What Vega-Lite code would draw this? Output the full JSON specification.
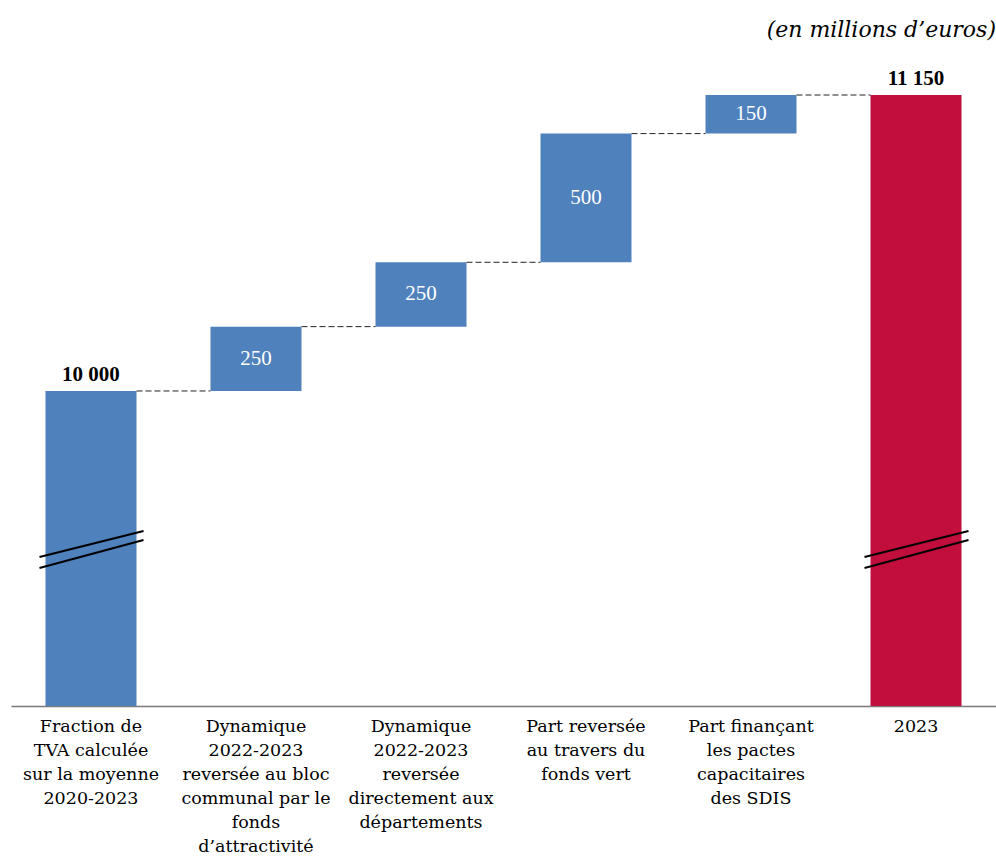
{
  "$schema": "https://vega.github.io/schema/vega-lite/v6.json",
  "autosize": "none",
  "width": 985,
  "height": 646,
  "padding": {"left": 11, "top": 60, "right": 0, "bottom": 154},
  "background": "white",
  "config": {
    "view": {"stroke": null},
    "font": "DejaVu Serif"
  },
  "title": {
    "text": "(en millions d’euros)",
    "anchor": "end",
    "font": "DejaVu Serif",
    "fontStyle": "italic",
    "fontWeight": "normal",
    "fontSize": 22,
    "color": "black",
    "offset": 18
  },
  "datasets": {
    "steps": [
      {"cat": "Fraction de|TVA calculée|sur la moyenne|2020-2023", "start": 0, "end": 10000, "kind": "total", "label": "10 000", "next": "Dynamique|2022-2023|reversée au bloc|communal par le|fonds|d’attractivité"},
      {"cat": "Dynamique|2022-2023|reversée au bloc|communal par le|fonds|d’attractivité", "start": 10000, "end": 10250, "kind": "delta", "label": "250", "next": "Dynamique|2022-2023|reversée|directement aux|départements"},
      {"cat": "Dynamique|2022-2023|reversée|directement aux|départements", "start": 10250, "end": 10500, "kind": "delta", "label": "250", "next": "Part reversée|au travers du|fonds vert"},
      {"cat": "Part reversée|au travers du|fonds vert", "start": 10500, "end": 11000, "kind": "delta", "label": "500", "next": "Part finançant|les pactes|capacitaires|des SDIS"},
      {"cat": "Part finançant|les pactes|capacitaires|des SDIS", "start": 11000, "end": 11150, "kind": "delta", "label": "150", "next": "2023"},
      {"cat": "2023", "start": 0, "end": 11150, "kind": "final", "label": "11 150", "next": null}
    ],
    "breaks": [
      {"cat": "Fraction de|TVA calculée|sur la moyenne|2020-2023", "ya": 9355, "yb": 9456},
      {"cat": "Fraction de|TVA calculée|sur la moyenne|2020-2023", "ya": 9312, "yb": 9421},
      {"cat": "2023", "ya": 9355, "yb": 9456},
      {"cat": "2023", "ya": 9312, "yb": 9421}
    ]
  },
  "encoding": {
    "x": {
      "field": "cat",
      "type": "nominal",
      "scale": {
        "domain": [
          "Fraction de|TVA calculée|sur la moyenne|2020-2023",
          "Dynamique|2022-2023|reversée au bloc|communal par le|fonds|d’attractivité",
          "Dynamique|2022-2023|reversée|directement aux|départements",
          "Part reversée|au travers du|fonds vert",
          "Part finançant|les pactes|capacitaires|des SDIS",
          "2023"
        ],
        "paddingInner": 0.4485,
        "paddingOuter": 0.209
      },
      "axis": {
        "title": null,
        "orient": "bottom",
        "ticks": false,
        "domainColor": "#7a7a7a",
        "domainWidth": 1.5,
        "labelAngle": 0,
        "labelFont": "DejaVu Serif",
        "labelFontSize": 17.5,
        "labelColor": "black",
        "labelLineHeight": 24,
        "labelPadding": 11,
        "labelBaseline": "top",
        "labelLimit": 0,
        "labelExpr": "split(datum.value, '|')"
      }
    }
  },
  "layer": [
    {
      "data": {"name": "steps"},
      "mark": {"type": "bar", "clip": true},
      "encoding": {
        "y": {
          "field": "end",
          "type": "quantitative",
          "scale": {"domain": [8776, 11286], "zero": false, "nice": false, "clamp": true},
          "axis": null
        },
        "y2": {"field": "start"},
        "color": {
          "field": "kind",
          "type": "nominal",
          "scale": {"domain": ["total", "delta", "final"], "range": ["#4F81BD", "#4F81BD", "#C10E3C"]},
          "legend": null
        }
      }
    },
    {
      "data": {"name": "steps"},
      "transform": [{"filter": "datum.next != null"}],
      "mark": {"type": "rule", "color": "#222222", "strokeWidth": 1, "strokeDash": [6, 3]},
      "encoding": {
        "x": {"field": "cat", "type": "nominal", "bandPosition": 1},
        "x2": {"field": "next", "bandPosition": 0},
        "y": {"field": "end", "type": "quantitative"}
      }
    },
    {
      "data": {"name": "steps"},
      "transform": [
        {"filter": "datum.kind == 'delta'"},
        {"fold": ["start", "end"], "as": ["k", "v"]}
      ],
      "mark": {"type": "text", "color": "white", "fontSize": 21, "font": "Liberation Serif", "baseline": "middle", "align": "center"},
      "encoding": {
        "y": {"aggregate": "mean", "field": "v", "type": "quantitative"},
        "text": {"field": "label", "type": "nominal"}
      }
    },
    {
      "data": {"name": "steps"},
      "transform": [{"filter": "datum.kind != 'delta'"}],
      "mark": {"type": "text", "color": "black", "fontSize": 21, "fontWeight": "bold", "font": "Liberation Serif", "baseline": "bottom", "align": "center", "dy": -6},
      "encoding": {
        "y": {"field": "end", "type": "quantitative"},
        "text": {"field": "label", "type": "nominal"}
      }
    },
    {
      "data": {"name": "breaks"},
      "mark": {"type": "rule", "color": "black", "strokeWidth": 2},
      "encoding": {
        "x": {"field": "cat", "type": "nominal", "bandPosition": -0.066},
        "x2": {"field": "cat", "bandPosition": 1.077},
        "y": {"field": "ya", "type": "quantitative"},
        "y2": {"field": "yb"}
      }
    }
  ]
}
